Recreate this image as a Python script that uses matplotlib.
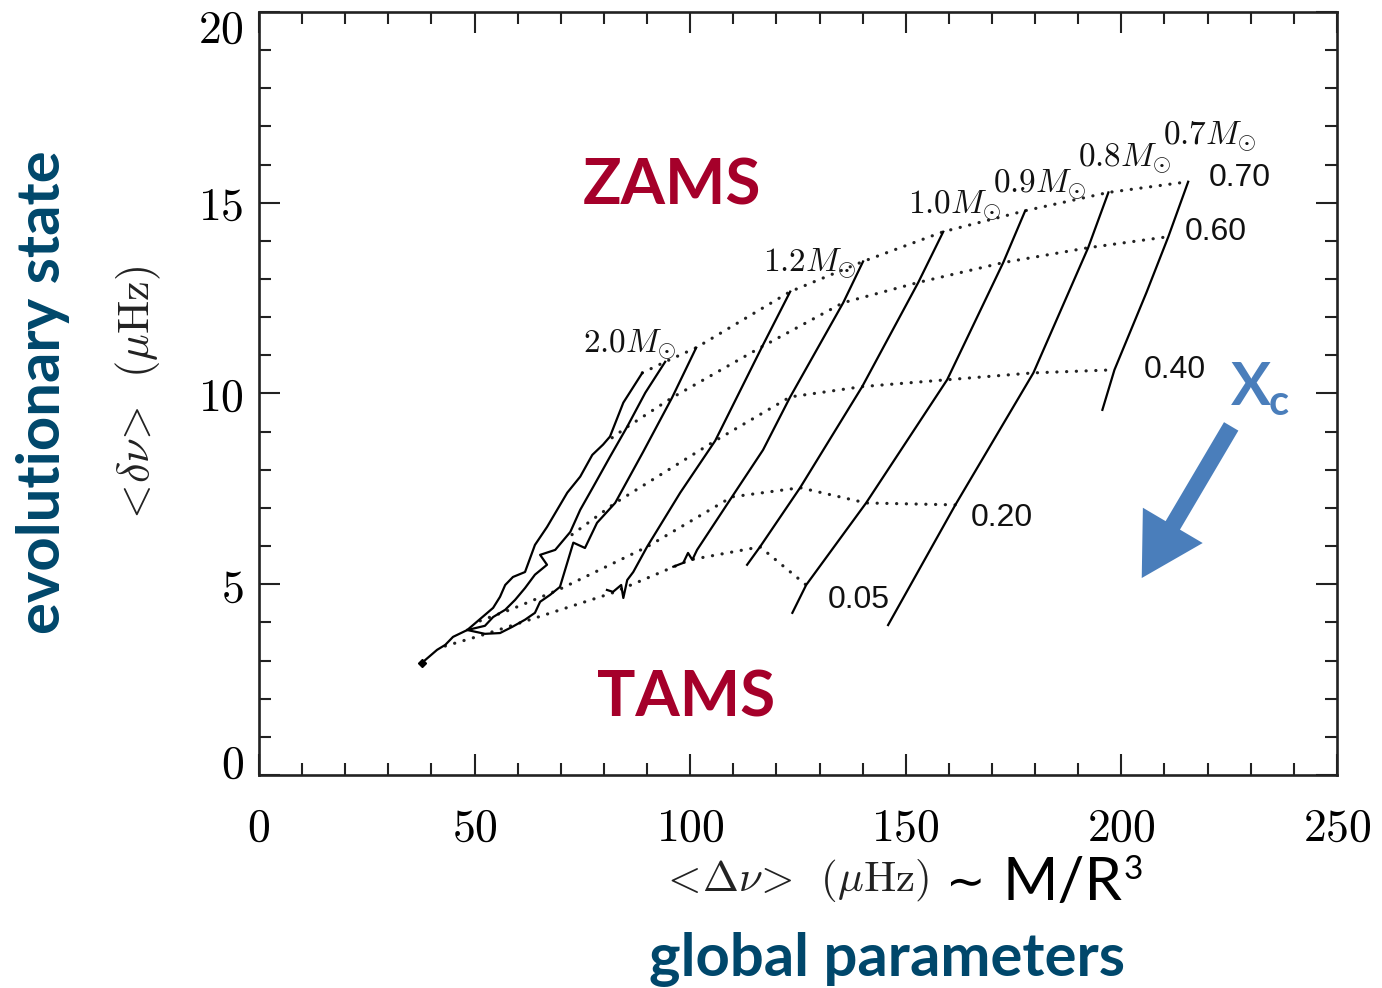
import matplotlib
matplotlib.use("Agg")
import matplotlib.pyplot as plt
from matplotlib.ticker import MultipleLocator, FuncFormatter
from matplotlib.transforms import ScaledTranslation

plt.rcParams['mathtext.fontset'] = 'cm'

# ---- evolutionary tracks: <Δν> (μHz), <δν> (μHz), from ZAMS downwards ----
track_a_large = [88.9, 84.5, 81.4, 79.8, 77.3, 74.5, 71.5, 66.8, 64.0, 61.7, 58.9, 57.1,
                 55.9, 54.3, 51.3, 48.3, 45.0, 43.2, 41.3, 37.8]
track_a_small = [10.54, 9.76, 8.87, 8.66, 8.39, 7.82, 7.40, 6.50, 6.03, 5.32, 5.19, 4.98,
                 4.67, 4.38, 4.09, 3.80, 3.62, 3.41, 3.28, 2.94]

track_b_large = [94.2, 89.6, 85.4, 81.4, 77.5, 74.5, 72.2, 68.7, 65.2, 66.8, 64.0, 61.7,
                 59.4, 57.1, 54.3, 52.4, 48.3]
track_b_small = [10.83, 10.02, 9.13, 8.34, 7.55, 6.95, 6.37, 5.90, 5.77, 5.51, 5.25, 4.90,
                 4.59, 4.33, 4.14, 3.91, 3.80]

track_c_large = [101.4, 95.8, 89.1, 82.6, 78.4, 75.6, 72.9, 71.7, 69.8, 67.5, 65.2, 64.0,
                 61.7, 58.7, 55.9, 52.4, 48.3]
track_c_small = [11.20, 9.89, 8.47, 7.13, 6.61, 5.95, 6.09, 5.64, 4.93, 4.72, 4.54, 4.25,
                 4.07, 3.88, 3.72, 3.70, 3.80]

track_12_large = [123.2, 116.7, 105.8, 97.7, 90.0, 86.8, 85.4, 84.5, 84.0, 82.1, 80.7]
track_12_small = [12.67, 11.23, 8.76, 7.40, 5.98, 5.32, 5.11, 4.64, 4.98, 4.80, 4.85]

track_11_large = [140.1, 135.5, 123.2, 116.9, 109.7, 101.6, 100.5, 99.5, 98.4, 96.1]
track_11_small = [13.46, 12.38, 9.91, 8.52, 7.29, 5.90, 5.64, 5.82, 5.56, 5.46]

track_10_large = [158.7, 152.9, 139.9, 125.5, 116.2, 113.2]
track_10_small = [14.24, 12.91, 10.18, 7.53, 5.98, 5.51]

track_09_large = [177.7, 172.6, 159.6, 140.8, 126.9, 123.7]
track_09_small = [14.79, 13.43, 10.36, 7.13, 4.98, 4.25]

track_08_large = [197.0, 192.3, 179.6, 161.5, 145.9]
track_08_small = [15.27, 13.82, 10.54, 7.08, 3.93]

track_07_large = [215.5, 210.9, 205.8, 198.4, 195.6]
track_07_small = [15.55, 14.11, 12.64, 10.62, 9.57]

# ---- lines of constant central hydrogen abundance X_c ----
xc70_large = [88.9, 94.2, 101.4, 123.2, 140.1, 158.7, 177.7, 197.0, 215.5]
xc70_small = [10.54, 10.83, 11.20, 12.67, 13.46, 14.24, 14.79, 15.27, 15.55]
xc60_large = [81.9, 85.1, 95.8, 116.7, 135.5, 152.9, 172.6, 192.3, 210.9]
xc60_small = [8.84, 9.10, 9.89, 11.23, 12.38, 12.91, 13.43, 13.82, 14.11]
xc40_large = [72.6, 82.6, 105.8, 123.2, 139.9, 159.6, 179.6, 198.4]
xc40_small = [6.30, 7.13, 8.76, 9.91, 10.18, 10.36, 10.54, 10.62]
xc20_large = [51.3, 58.2, 69.4, 90.0, 109.7, 125.5, 140.8, 161.5]
xc20_small = [4.04, 4.33, 4.85, 5.98, 7.29, 7.53, 7.13, 7.08]
xc05_large = [43.2, 51.3, 57.1, 81.9, 100.0, 116.2, 126.9]
xc05_small = [3.38, 3.65, 3.86, 4.77, 5.64, 5.98, 4.98]

xc_labels = ["0.70", "0.60", "0.40", "0.20", "0.05"]
mass_labels = ["2.0", "1.2", "1.0", "0.9", "0.8", "0.7"]

x_ticks = [0, 50, 100, 150, 200, 250]
y_ticks = [0, 5, 10, 15, 20]

DARK_RED = "#A5002A"
NAVY = "#00476B"
BLUE = "#4A7EBB"

fig = plt.figure(figsize=(13.82, 9.88), dpi=100)
ax = fig.add_axes([0.1874, 0.2156, 0.7800, 0.7723])

tracks = [
    (track_a_large, track_a_small), (track_b_large, track_b_small),
    (track_c_large, track_c_small), (track_12_large, track_12_small),
    (track_11_large, track_11_small), (track_10_large, track_10_small),
    (track_09_large, track_09_small), (track_08_large, track_08_small),
    (track_07_large, track_07_small),
]
for xs, ys in tracks:
    ax.plot(xs, ys, color="black", lw=1.6, solid_joinstyle="round", zorder=3)

isochrones = [
    (xc70_large, xc70_small), (xc60_large, xc60_small), (xc40_large, xc40_small),
    (xc20_large, xc20_small), (xc05_large, xc05_small),
]
for xs, ys in isochrones:
    ax.plot(xs, ys, color="#222222", lw=2.3, linestyle=(0, (0.05, 3.0)),
            dash_capstyle="round", zorder=2)

# bottom-left end point
ax.plot([track_a_large[-1]], [track_a_small[-1]], marker="D", ms=4, color="black", zorder=4)

# X_c labels at the right end of each dotted line
xc_label_pos = [(220.2, 15.66), (214.8, 14.24), (205.1, 10.62), (165.0, 6.74), (132.0, 4.59)]
for lab, (lx, ly) in zip(xc_labels, xc_label_pos):
    ax.text(lx, ly, lab, fontsize=23, family="Liberation Sans", color="#111111",
            ha="left", va="center", zorder=5)

# stellar mass labels
mass_label_pos = [(75.2, 11.07), (116.9, 13.19), (150.6, 14.72), (170.3, 15.27),
                  (190.0, 15.95), (209.7, 16.52)]
for lab, (lx, ly) in zip(mass_labels, mass_label_pos):
    ax.text(lx, ly, r"$\mathrm{%s}M_{\odot}$" % lab, fontsize=24, color="#111111",
            ha="left", va="baseline", zorder=5)

# axes styling
ax.set_xlim(0, 250)
ax.set_ylim(0, 20)
ax.xaxis.set_major_locator(MultipleLocator(50))
ax.xaxis.set_minor_locator(MultipleLocator(10))
ax.yaxis.set_major_locator(MultipleLocator(5))
ax.yaxis.set_minor_locator(MultipleLocator(1))
fmt = FuncFormatter(lambda v, p: r"$%d$" % int(round(v)))
ax.xaxis.set_major_formatter(fmt)
ax.yaxis.set_major_formatter(fmt)
ax.tick_params(which="both", direction="in", top=True, right=True, color="#222222")
ax.tick_params(which="major", length=15, width=1.5, labelsize=33)
ax.tick_params(which="minor", length=8.5, width=1.5)
ax.tick_params(axis="x", which="major", pad=22)
ax.tick_params(axis="y", which="major", pad=11)
for sp in ax.spines.values():
    sp.set_linewidth(1.9)
    sp.set_color("#222222")

ax.set_xticks(x_ticks)
ax.set_yticks(y_ticks)
ymajor = ax.yaxis.get_major_ticks()
# end labels of the y axis sit just inside the frame
lab0 = ymajor[0].label1
lab0.set_transform(lab0.get_transform() + ScaledTranslation(0, 0.15, fig.dpi_scale_trans))
labtop = ymajor[-1].label1
labtop.set_transform(labtop.get_transform() + ScaledTranslation(0, -0.13, fig.dpi_scale_trans))

ax.set_xlabel(r"$<\!\Delta\nu\!>\ \,(\mu\mathrm{Hz})$", fontsize=31, color="#222222")
ax.xaxis.set_label_coords(0.497, -0.108)
ax.set_ylabel(r"$<\!\delta\nu\!>\ \,(\mu\mathrm{Hz})$", fontsize=32, color="#222222")
ax.yaxis.set_label_coords(-0.089, 0.497)

# annotations
ax.text(95.8, 14.95, "ZAMS", fontsize=46, family="Lato", weight="bold",
        color=DARK_RED, ha="center", va="baseline")
ax.text(99.1, 1.52, "TAMS", fontsize=46, family="Lato", weight="bold",
        color=DARK_RED, ha="center", va="baseline")
ax.text(225.3, 9.70, "X", fontsize=43, family="Lato", weight="bold",
        color=BLUE, ha="left", va="baseline")
ax.text(234.2, 9.44, "c", fontsize=30, family="Lato", weight="bold",
        color=BLUE, ha="left", va="baseline")
ax.annotate("", xy=(204.4, 5.10), xytext=(225.8, 9.20),
            arrowprops=dict(arrowstyle="simple,head_length=1.1,head_width=1.25,tail_width=0.3",
                            mutation_scale=40, color=BLUE, lw=0))

fig.text(0.031, 0.603, "evolutionary state", fontsize=43, family="Lato", weight="bold",
         color=NAVY, rotation=90, ha="center", va="center")
fig.text(0.642, 0.012, "global parameters", fontsize=43, family="Lato", weight="bold",
         color=NAVY, ha="center", va="baseline")
fig.text(0.6985, 0.104, "\u223c", fontsize=34, family=["DejaVu Sans"], color="black",
         ha="center", va="center")
mr = fig.text(0.7255, 0.089, "M/R", fontsize=43, family="Lato", color="black",
              ha="left", va="baseline")
ax.annotate("3", xy=(1.0, 1.0), xycoords=mr, xytext=(1, 1), textcoords="offset points",
            fontsize=24, family="Lato", color="black", ha="left", va="top",
            annotation_clip=False)

fig.savefig("out.png", dpi=100)
